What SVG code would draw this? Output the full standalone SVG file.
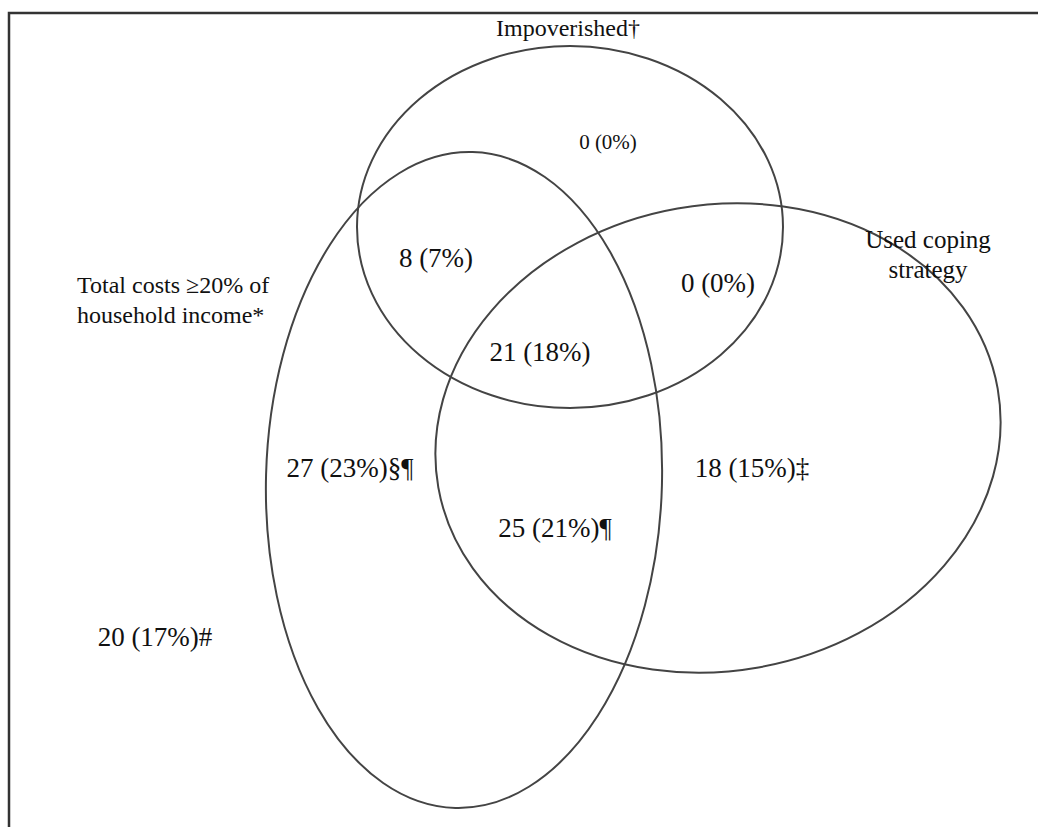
<svg xmlns="http://www.w3.org/2000/svg" width="1038" height="827" viewBox="0 0 1038 827">
<style>
.set{fill:none;stroke:#444;stroke-width:2}
.frame{fill:none;stroke:#333;stroke-width:2.5}
text{font-family:"Liberation Serif","Times New Roman",serif;font-size:24px;fill:#111}
.num{font-size:27px}
.sm{font-size:21px}
.lg{font-size:25px}
</style>
<rect width="1038" height="827" fill="#fff"/>
<path class="frame" d="M1038 13 H9 V827"/>
<g id="impoverished"><ellipse class="set" cx="570" cy="227" rx="213" ry="181"/><text x="568" y="36" text-anchor="middle">Impoverished†</text></g>
<g id="total-costs"><ellipse class="set" cx="464" cy="480" rx="198" ry="328" transform="rotate(1.5 464 480)"/><text x="77" y="293">Total costs ≥20% of</text><text x="77" y="323">household income*</text></g>
<g id="coping"><ellipse class="set" cx="718" cy="438" rx="284" ry="233" transform="rotate(-10 718 438)"/><text class="lg" x="928" y="248" text-anchor="middle">Used coping</text><text class="lg" x="928" y="278" text-anchor="middle">strategy</text></g>
<g id="labels">
<text class="sm" x="608" y="149" text-anchor="middle">0 (0%)</text>
<text class="num" x="436" y="267" text-anchor="middle">8 (7%)</text>
<text class="num" x="718" y="292" text-anchor="middle">0 (0%)</text>
<text class="num" x="540" y="361" text-anchor="middle">21 (18%)</text>
<text class="num" x="350" y="477" text-anchor="middle">27 (23%)§¶</text>
<text class="num" x="555" y="537" text-anchor="middle">25 (21%)¶</text>
<text class="num" x="752" y="477" text-anchor="middle">18 (15%)‡</text>
<text class="num" x="155" y="646" text-anchor="middle">20 (17%)#</text>
</g>
</svg>
